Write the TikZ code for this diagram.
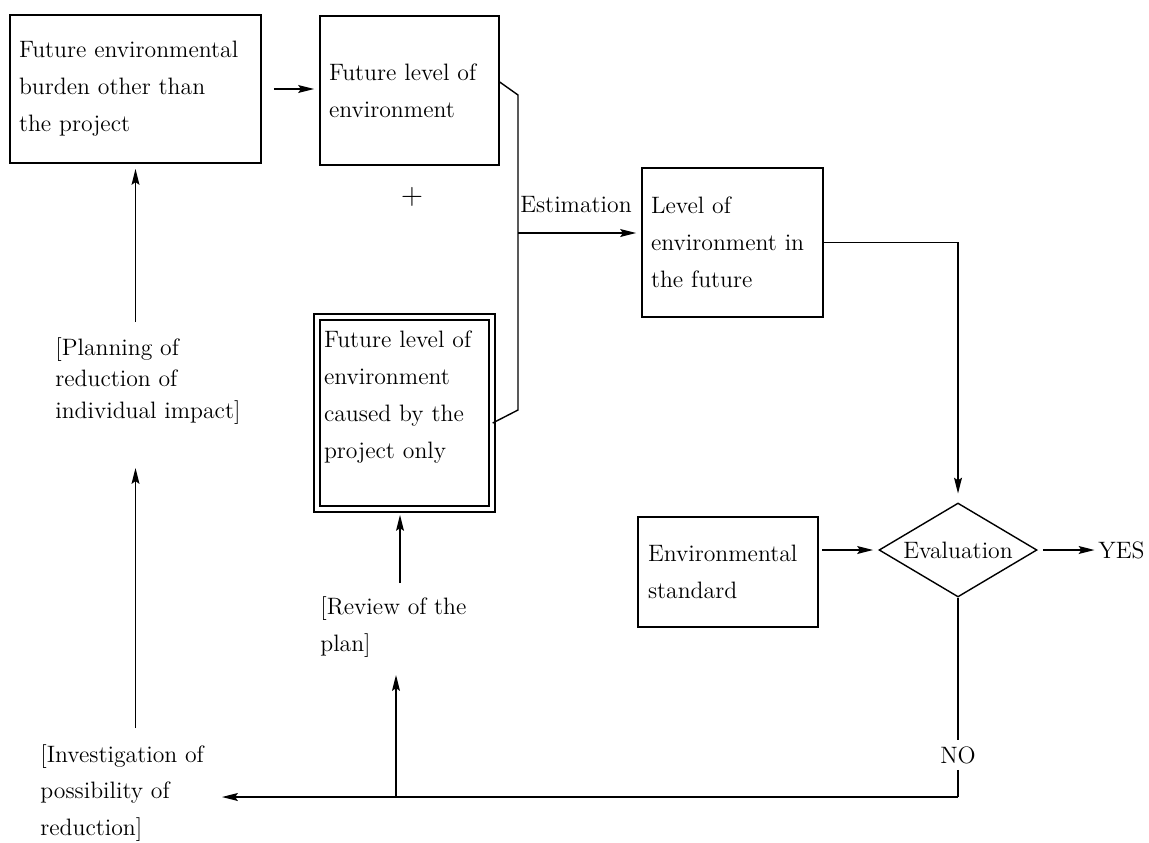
\documentclass[tikz,border=0pt]{standalone}
\usetikzlibrary{shapes.geometric,arrows.meta}
\begin{document}
\begin{tikzpicture}[x=0.02cm,y=-0.02cm,
  every node/.style={font=\fontsize{13.5}{21}\selectfont},
  box/.style={draw, line width=0.8pt, align=left, inner ysep=0pt, inner xsep=0.18cm},
  lab/.style={align=left, inner sep=0pt, anchor=west},
  ln/.style={line width=0.8pt},
  arr/.style={line width=0.8pt, -{Stealth[length=9pt,width=4.5pt,inset=1.5pt]}}]
\useasboundingbox (0,0) rectangle (1149,842);

% boxes
\node[box, text width=4.66cm, minimum height=2.96cm] (A) at (135.5,89)
  {Future environmental\\ burden other than\\ the project};
\node[box, text width=3.22cm, minimum height=2.98cm] (B) at (409.5,90.5)
  {Future level of\\ environment};
\node[box, double, double distance=2.5pt, inner xsep=0.14cm, text width=3.22cm, minimum height=3.84cm] (C) at (404.5,413)
  {Future level of\\ environment\\ caused by the\\ project only\\ \mbox{}};
\node[box, text width=3.26cm, minimum height=2.98cm] (D) at (732.5,242.5)
  {Level of\\ environment in\\ the future};
\node[box, inner xsep=0.2cm, text width=3.2cm, minimum height=2.2cm] (S) at (728,572)
  {Environmental\\ standard};
\node[draw, line width=0.8pt, diamond, aspect=1.68, minimum width=3.16cm, minimum height=1.88cm, inner sep=0pt] (E) at (958,550) {Evaluation};

% labels
\node[font=\fontsize{17}{20}\selectfont] (plus) at (412,197) {$+$};
\node (est) at (576,205) {Estimation};
\node[lab] (yes) at (1098,550) {YES};
\node (no) at (958,755) {NO};
\node[lab, font=\fontsize{13.5}{18}\selectfont] (plan) at (55,381) {[Planning of\\ reduction of\\ individual impact]};
\node[lab] (rev) at (320,627) {[Review of the\\ plan]};
\node[lab] (inv) at (40,793) {[Investigation of\\ possibility of\\ reduction]};

% helper coordinates
\coordinate (y82) at (0,82);
\coordinate (br1) at (518,95);
\coordinate (br2) at (518,410);
\coordinate (y423) at (0,423);
\coordinate (es) at (518,233);
\coordinate (nocorner) at (958,797);
\coordinate (invtip) at (222,797);
\coordinate (rvbase) at (396,797);
\coordinate (rvtip) at (396,675);
\coordinate (rvtail) at (400,583);
\coordinate (pltail) at (135.5,322);
\coordinate (pltip) at (135.5,468);
\coordinate (invtail) at (135.5,728);

% connectors
\draw[arr, shorten <=7pt, shorten >=3pt] (A.east) -- (A.east -| B.west);
\draw[ln] (B.east |- y82) -- (br1) -- (br2) -- (C.east |- y423);
\draw[arr, shorten >=3pt] (es) -- (D.west |- es);
\draw[arr, shorten >=5pt] (D.east) -| (E.north);
\draw[arr, shorten <=2pt, shorten >=3pt] (S.east |- E.west) -- (E.west);
\draw[arr, shorten <=3pt, shorten >=2pt] (E.east) -- (yes.west);
\draw[ln] (E.south) -- (no.north);
\draw[ln] (no.south) -- (nocorner);
\draw[arr] (nocorner) -- (invtip);
\draw[arr] (rvbase) -- (rvtip);
\draw[arr, shorten >=3pt] (rvtail) -- (C.south -| rvtail);
\draw[arr, shorten >=3pt] (pltail) -- (A.south);
\draw[arr] (invtail) -- (pltip);
\end{tikzpicture}
\end{document}
